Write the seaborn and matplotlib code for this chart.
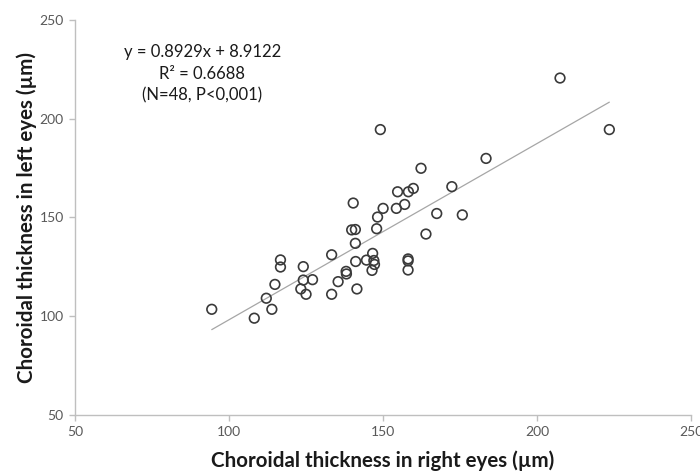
import matplotlib

matplotlib.use("Agg")
import matplotlib.pyplot as plt
import numpy as np
import pandas as pd
import seaborn as sns

# Choroidal thickness (µm)
right_eye = [
    94.4, 108.2, 112.1, 113.9, 114.9, 116.7, 116.7, 124.1, 124.1, 127.1,
    123.3, 125.0, 133.3, 133.3, 135.4, 138.0, 138.1, 139.8, 141.0, 140.3,
    141.0, 141.1, 141.5, 144.6, 146.6, 147.0, 147.2, 146.4, 147.9, 148.2,
    150.0, 154.3, 157.0, 154.7, 158.2, 159.8, 149.1, 158.1, 158.1, 158.1,
    162.3, 163.9, 167.4, 172.3, 175.7, 183.4, 207.4, 223.4,
]
left_eye = [
    103.5, 99.0, 109.1, 103.5, 116.1, 128.5, 124.9, 125.1, 118.3, 118.5,
    113.8, 111.1, 131.1, 111.1, 117.5, 122.7, 121.4, 143.7, 143.9, 157.3,
    136.9, 127.7, 113.8, 128.4, 131.8, 128.2, 126.2, 123.2, 144.3, 150.2,
    154.6, 154.6, 156.6, 163.0, 163.0, 164.7, 194.5, 129.0, 128.0, 123.4,
    174.9, 141.6, 152.0, 165.6, 151.3, 179.9, 220.6, 194.5,
]

# linear trendline as reported on the chart
slope = 0.8929
intercept = 8.9122
r_squared = 0.6688
n_eyes = 48

axis_ticks = [50, 100, 150, 200, 250]

df = pd.DataFrame({"right": right_eye, "left": left_eye})

sns.set_style("white")
plt.rcParams["font.family"] = ["Lato", "DejaVu Sans"]

fig = plt.figure(figsize=(7.0, 4.71), dpi=100)
ax = fig.add_axes([0.107, 0.119, 0.8806, 0.8386])

sns.scatterplot(
    data=df,
    x="right",
    y="left",
    ax=ax,
    marker="o",
    s=48,
    facecolor="none",
    edgecolor="#3a3a3a",
    linewidth=1.2,
    zorder=3,
)

# trendline across the data range
x_line = np.array([df["right"].min(), df["right"].max()])
ax.plot(x_line, slope * x_line + intercept, color="#a6a6a6", linewidth=0.9, zorder=2)

ax.set_xlim(50, 250)
ax.set_ylim(50, 250)
ax.set_xticks(axis_ticks)
ax.set_yticks(axis_ticks)

for side in ["top", "right"]:
    ax.spines[side].set_visible(False)
for side in ["left", "bottom"]:
    ax.spines[side].set_color("#bfbfbf")
    ax.spines[side].set_linewidth(1.0)

ax.tick_params(
    axis="both",
    direction="out",
    length=4,
    width=1.0,
    color="#bfbfbf",
    labelcolor="#595959",
    labelsize=10,
    pad=4,
    left=True,
    bottom=True,
)

ax.set_xlabel("Choroidal thickness in right eyes (µm)", fontsize=14.8, fontweight="bold", color="#1a1a1a", labelpad=9)
ax.set_ylabel("Choroidal thickness in left eyes (µm)", fontsize=14.8, fontweight="bold", color="#1a1a1a", labelpad=2)

eq_text = f"y = {slope}x + {intercept}\nR² = {r_squared}\n(N={n_eyes}, P<0,001)"
ax.text(
    0.207, 0.94, eq_text,
    transform=ax.transAxes,
    ha="center", va="top",
    fontsize=12, color="#1a1a1a",
    linespacing=1.45,
)

fig.savefig("out.png", dpi=100)
